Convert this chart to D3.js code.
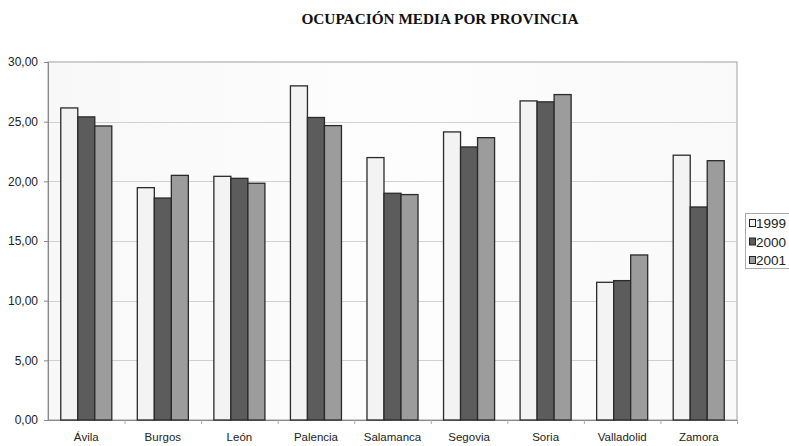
<!DOCTYPE html>
<html>
<head>
<meta charset="utf-8">
<script src="https://cdn.jsdelivr.net/npm/d3@7"></script>
<style>
  body { margin: 0; background: #fff; }
  svg { display: block; }
</style>
</head>
<body>
<svg width="789" height="446"></svg>
<script>
const provincias = ['Ávila', 'Burgos', 'León', 'Palencia', 'Salamanca', 'Segovia', 'Soria', 'Valladolid', 'Zamora'];
const years = ['1999', '2000', '2001'];
const v1999 = [26.15, 19.47, 20.42, 28.0, 21.99, 24.14, 26.74, 11.54, 22.19];
const v2000 = [25.4, 18.6, 20.25, 25.35, 19.0, 22.88, 26.66, 11.68, 17.85];
const v2001 = [24.64, 20.5, 19.84, 24.67, 18.89, 23.66, 27.27, 13.83, 21.73];
const yTicks = [0, 5, 10, 15, 20, 25, 30];
const colors = ['#f3f3f3', '#5c5c5c', '#9c9c9c'];

const series = [v1999, v2000, v2001];
const svg = d3.select('svg');
const m = { left: 48, right: 737, top: 62, bottom: 420 };

const x = d3.scaleBand().domain(provincias).range([m.left, m.right]).paddingInner(0).paddingOuter(0);
const y = d3.scaleLinear().domain([0, 30]).range([m.bottom, m.top]);
// bars take 3/4.5 of each band (gap width 150%)
const inner = d3.scaleBand().domain(years).range([0, x.bandwidth() * 3 / 4.5]);
const off = x.bandwidth() * 0.75 / 4.5;

// faint background gradient
const defs = svg.append('defs');
const grad = defs.append('linearGradient').attr('id', 'bg').attr('x1', 0).attr('x2', 1).attr('y1', 0).attr('y2', 0);
grad.append('stop').attr('offset', '0%').attr('stop-color', '#f8f8f8');
grad.append('stop').attr('offset', '50%').attr('stop-color', '#fdfdfd');
grad.append('stop').attr('offset', '100%').attr('stop-color', '#f9f9f9');

svg.append('rect')
  .attr('x', m.left).attr('y', m.top)
  .attr('width', m.right - m.left).attr('height', m.bottom - m.top)
  .attr('fill', 'url(#bg)').attr('stroke', '#a0a0a0').attr('stroke-width', 1);

// gridlines
svg.append('g').selectAll('line').data(yTicks.filter(t => t > 0 && t < 30)).join('line')
  .attr('x1', m.left).attr('x2', m.right)
  .attr('y1', d => Math.round(y(d)) + 0.5).attr('y2', d => Math.round(y(d)) + 0.5)
  .attr('stroke', '#d0d0d0');

// y axis
const yAxis = svg.append('g').attr('transform', `translate(${m.left},0)`)
  .call(d3.axisLeft(y).tickValues(yTicks).tickSize(4).tickFormat(d => d3.format('.2f')(d).replace('.', ',')));
yAxis.select('.domain').attr('stroke', '#888');
yAxis.selectAll('.tick line').attr('stroke', '#888');
yAxis.selectAll('text').attr('font-family', 'Liberation Sans, Arial, sans-serif').attr('font-size', 12).attr('fill', '#222').attr('x', -10);

// x axis
const xAxis = svg.append('g').attr('transform', `translate(0,${m.bottom})`)
  .call(d3.axisBottom(x).tickSize(0).tickPadding(13));
xAxis.select('.domain').attr('stroke', '#888');
xAxis.selectAll('text').attr('font-family', 'Liberation Sans, Arial, sans-serif').attr('font-size', 11.5).attr('fill', '#222');
svg.append('g').selectAll('line').data(provincias.slice(1).concat(['end'])).join('line')
  .attr('x1', (d, i) => m.left + (i + 1) * x.bandwidth() + 0.5)
  .attr('x2', (d, i) => m.left + (i + 1) * x.bandwidth() + 0.5)
  .attr('y1', m.bottom).attr('y2', m.bottom + 4)
  .attr('stroke', '#aaa');

// bars
years.forEach((yr, si) => {
  svg.append('g').selectAll('rect').data(series[si]).join('rect')
    .attr('x', (d, i) => x(provincias[i]) + off + inner(yr))
    .attr('y', d => y(d))
    .attr('width', inner.bandwidth())
    .attr('height', d => y(0) - y(d))
    .attr('fill', colors[si])
    .attr('stroke', '#2a2a2a').attr('stroke-width', 1.3);
});

// title
svg.append('text').attr('x', 440).attr('y', 24).attr('text-anchor', 'middle')
  .attr('font-family', 'Liberation Serif, Times New Roman, serif').attr('font-weight', 'bold').attr('font-size', 15.3)
  .attr('fill', '#111')
  .text('OCUPACIÓN MEDIA POR PROVINCIA');

// legend
const lg = svg.append('g');
lg.append('rect').attr('x', 745.5).attr('y', 213.5).attr('width', 44).attr('height', 55)
  .attr('fill', '#fff').attr('stroke', '#aaa');
years.forEach((yr, i) => {
  lg.append('rect').attr('x', 749.5).attr('y', 219.5 + i * 18.5).attr('width', 6).attr('height', 7)
    .attr('fill', colors[i]).attr('stroke', '#222');
  lg.append('text').attr('x', 756).attr('y', 228 + i * 18.5)
    .attr('font-family', 'Liberation Sans, Arial, sans-serif').attr('font-size', 13.5).attr('fill', '#222')
    .text(yr);
});
</script>
</body>
</html>
